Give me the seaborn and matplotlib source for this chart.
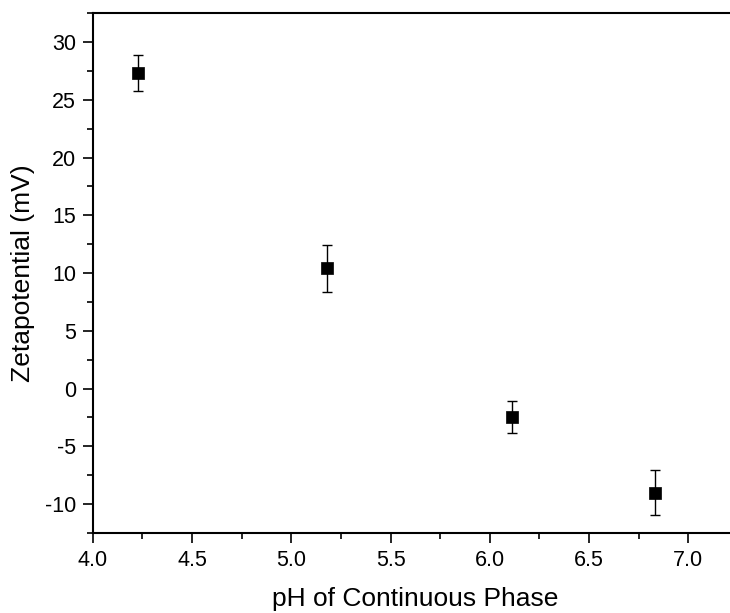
import numpy as np
import pandas as pd
import matplotlib
matplotlib.use("Agg")
import matplotlib.pyplot as plt
import seaborn as sns
from matplotlib.ticker import MultipleLocator, FormatStrFormatter

# data
ph = [4.23, 5.18, 6.11, 6.83]
zeta = [27.3, 10.4, -2.45, -9.0]
zeta_err = [1.55, 2.07, 1.4, 1.92]

df = pd.DataFrame({"ph": ph, "zeta": zeta, "err": zeta_err})

sns.set_theme(style="ticks")
plt.rcParams["font.family"] = ["Liberation Sans", "DejaVu Sans"]
plt.rcParams["axes.unicode_minus"] = False

fig = plt.figure(figsize=(7.30, 6.13), dpi=100)
ax = fig.add_axes([0.127, 0.1305, 0.884, 0.848])

ax.errorbar(df["ph"], df["zeta"], yerr=df["err"], fmt="none",
            ecolor="black", elinewidth=1, capsize=3.8, capthick=1, zorder=2)
sns.scatterplot(data=df, x="ph", y="zeta", marker="s", s=70, color="black",
                edgecolor="black", linewidth=0.5, ax=ax, zorder=3)

ax.set_xlim(4.0, 7.25)
ax.set_ylim(-12.5, 32.5)
ax.xaxis.set_major_locator(MultipleLocator(0.5))
ax.xaxis.set_minor_locator(MultipleLocator(0.25))
ax.yaxis.set_major_locator(MultipleLocator(5))
ax.yaxis.set_minor_locator(MultipleLocator(2.5))
ax.xaxis.set_major_formatter(FormatStrFormatter("%.1f"))

ax.tick_params(which="major", direction="out", length=7, width=1.2,
               labelsize=15.5, colors="black", pad=5)
ax.tick_params(which="minor", direction="out", length=4, width=1.2, colors="black")
for s in ax.spines.values():
    s.set_linewidth(1.5)
    s.set_color("black")

ax.set_xlabel("pH of Continuous Phase", fontsize=19, labelpad=12, color="black")
ax.set_ylabel("Zetapotential (mV)", fontsize=19, labelpad=7, color="black")

fig.savefig("out.png", dpi=100)
